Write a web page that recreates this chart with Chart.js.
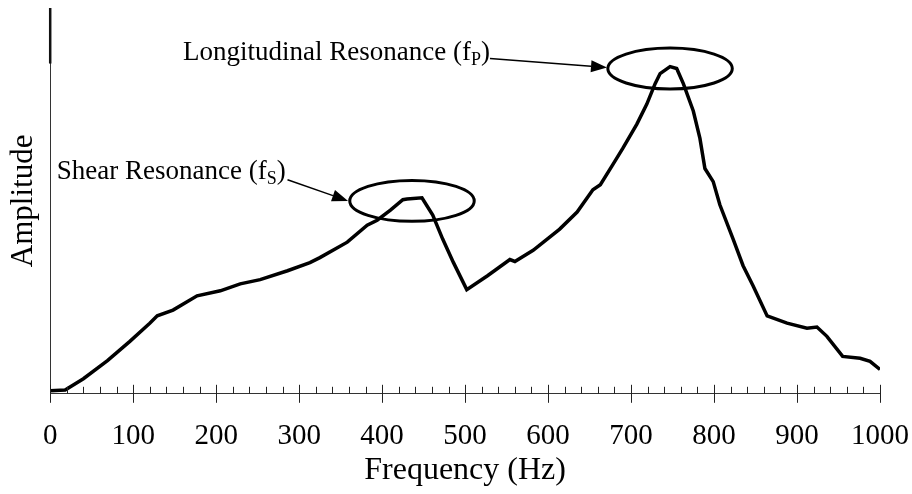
<!DOCTYPE html>
<html lang="en">
<head>
<meta charset="UTF-8">
<title>Resonance spectrum</title>
<script src="https://cdn.jsdelivr.net/npm/chart.js@4.4.1/dist/chart.umd.min.js"></script>
<style>
  html, body { margin: 0; padding: 0; background: #fff; }
  #wrap { width: 912px; height: 494px; }
</style>
</head>
<body>
<div id="wrap"><canvas id="myChart"></canvas></div>
<script>
// frequency sweep (Hz) and measured amplitude (arbitrary units)
var freq = [0, 18, 40, 69, 96, 120, 129, 148, 177, 205, 229, 253, 286, 313, 325, 358, 382, 394, 410, 425,
            430, 448, 461, 473, 486, 502, 527, 554, 560, 582, 614, 635, 654, 663, 678, 690, 707, 719, 729, 735,
            747, 755, 763, 775, 783, 789, 799, 807, 823, 835, 847, 864, 888, 912, 924, 936, 955, 976, 988, 1000];
var amp  = [0.8, 1.0, 3.9, 8.6, 13.6, 18.3, 20.2, 21.7, 25.4, 26.7, 28.5, 29.6, 31.9, 34.0, 35.3, 39.3, 43.7, 45.0, 47.6, 50.3,
            50.5, 50.8, 46.3, 40.1, 34.0, 27.0, 30.6, 34.8, 34.3, 37.2, 42.7, 47.1, 52.9, 54.2, 59.4, 63.6, 69.9, 75.1, 80.4, 83.0,
            84.8, 84.3, 80.4, 73.3, 66.2, 58.4, 55.0, 49.0, 40.1, 33.2, 28.0, 20.2, 18.3, 17.0, 17.3, 14.9, 9.7, 9.2, 8.4, 6.3];

var xTicks = [0, 100, 200, 300, 400, 500, 600, 700, 800, 900, 1000];
var minorStep = 20;

// the two marked peaks: label, subscript, peak centre (Hz, amplitude)
var peakNames = ['Shear Resonance (f', 'Longitudinal Resonance (f'];
var peakSubs = ['S', 'P'];
var peakCentres = [[436, 50], [747, 84.3]];

// where each label sits and where its arrow starts/ends, in axis units
var labelAt = [[8, 55.8], [160, 86.4]];
var arrowFrom = [[286, 55.5], [530, 86.9]];
var arrowTo = [[359, 50], [671, 84.6]];
var ring = { rx: 75, ry: 5.3 };

var SERIF = '"Liberation Serif", "Times New Roman", serif';

var extras = {
    id: 'extras',
    afterDraw: function(chart) {
        var ctx = chart.ctx, xs = chart.scales.x, ys = chart.scales.y;
        var axisY = ys.getPixelForValue(0);
        ctx.save();

        // minor ticks point up from the axis, major ticks cross it
        ctx.strokeStyle = '#222';
        ctx.lineWidth = 1;
        ctx.beginPath();
        for (var v = 0; v <= 1000; v += minorStep) {
            var px = Math.round(xs.getPixelForValue(v)) + 0.5;
            if (xTicks.indexOf(v) >= 0) {
                ctx.moveTo(px, axisY - 9);
                ctx.lineTo(px, axisY + 9);
            } else {
                ctx.moveTo(px, axisY);
                ctx.lineTo(px, axisY - 7);
            }
        }
        ctx.stroke();

        // heavier stub at the top of the amplitude axis
        ctx.lineWidth = 2.5;
        ctx.strokeStyle = '#111';
        ctx.beginPath();
        ctx.moveTo(xs.getPixelForValue(0), ys.getPixelForValue(100));
        ctx.lineTo(xs.getPixelForValue(0), ys.getPixelForValue(85.6));
        ctx.stroke();

        for (var i = 0; i < peakNames.length; i++) {
            var cx = xs.getPixelForValue(peakCentres[i][0]);
            var cy = ys.getPixelForValue(peakCentres[i][1]);
            var rx = xs.getPixelForValue(peakCentres[i][0] + ring.rx) - cx;
            var ry = cy - ys.getPixelForValue(peakCentres[i][1] + ring.ry);

            ctx.strokeStyle = '#000';
            ctx.lineWidth = 3;
            ctx.beginPath();
            ctx.ellipse(cx, cy, rx, ry, 0, 0, Math.PI * 2);
            ctx.stroke();

            // arrow
            var x0 = xs.getPixelForValue(arrowFrom[i][0]), y0 = ys.getPixelForValue(arrowFrom[i][1]);
            var x1 = xs.getPixelForValue(arrowTo[i][0]), y1 = ys.getPixelForValue(arrowTo[i][1]);
            var a = Math.atan2(y1 - y0, x1 - x0);
            var head = 16, half = 6;
            ctx.lineWidth = 1.5;
            ctx.beginPath();
            ctx.moveTo(x0, y0);
            ctx.lineTo(x1 - head * Math.cos(a), y1 - head * Math.sin(a));
            ctx.stroke();
            ctx.fillStyle = '#000';
            ctx.beginPath();
            ctx.moveTo(x1, y1);
            ctx.lineTo(x1 - head * Math.cos(a) + half * Math.sin(a), y1 - head * Math.sin(a) - half * Math.cos(a));
            ctx.lineTo(x1 - head * Math.cos(a) - half * Math.sin(a), y1 - head * Math.sin(a) + half * Math.cos(a));
            ctx.closePath();
            ctx.fill();

            // label with subscript
            var tx = xs.getPixelForValue(labelAt[i][0]), ty = ys.getPixelForValue(labelAt[i][1]);
            ctx.textBaseline = 'alphabetic';
            ctx.textAlign = 'left';
            ctx.font = '27px ' + SERIF;
            ctx.fillText(peakNames[i], tx, ty);
            var w = ctx.measureText(peakNames[i]).width;
            ctx.font = '18px ' + SERIF;
            ctx.fillText(peakSubs[i], tx + w, ty + 5);
            var ws = ctx.measureText(peakSubs[i]).width;
            ctx.font = '27px ' + SERIF;
            ctx.fillText(')', tx + w + ws, ty);
        }
        ctx.restore();
    }
};

var ctx = document.getElementById('myChart').getContext('2d');
var chart = new Chart(ctx, {
    type: 'line',
    data: {
        datasets: [{
            data: freq.map(function(f, i) { return { x: f, y: amp[i] }; }),
            borderColor: '#000',
            borderWidth: 3.5,
            pointRadius: 0,
            fill: false,
            tension: 0
        }]
    },
    options: {
        responsive: true,
        maintainAspectRatio: false,
        animation: false,
        events: [],
        layout: { padding: { left: 0, right: 0, top: 8, bottom: 0 } },
        plugins: { legend: { display: false }, tooltip: { enabled: false } },
        scales: {
            x: {
                type: 'linear',
                min: 0,
                max: 1000,
                // grid hidden, tick length kept only to push labels down
                grid: { display: false, drawTicks: true, tickLength: 22 },
                border: { display: true, color: '#333', width: 1 },
                afterBuildTicks: function(scale) {
                    scale.ticks = xTicks.map(function(v) { return { value: v }; });
                },
                ticks: {
                    autoSkip: false,
                    maxRotation: 0,
                    padding: 3,
                    color: '#000',
                    font: { family: SERIF, size: 29 },
                    callback: function(v) { return String(v); }
                },
                title: {
                    display: true,
                    text: 'Frequency (Hz)',
                    color: '#000',
                    font: { family: SERIF, size: 32 },
                    padding: { top: -5, bottom: 4 }
                }
            },
            y: {
                min: 0,
                max: 100,
                grid: { display: false, drawTicks: false },
                border: { display: true, color: '#333', width: 1 },
                ticks: { display: false },
                title: {
                    display: true,
                    text: 'Amplitude',
                    color: '#000',
                    font: { family: SERIF, size: 31 },
                    padding: { top: 5, bottom: 8 }
                }
            }
        }
    },
    plugins: [extras]
});
</script>
</body>
</html>
